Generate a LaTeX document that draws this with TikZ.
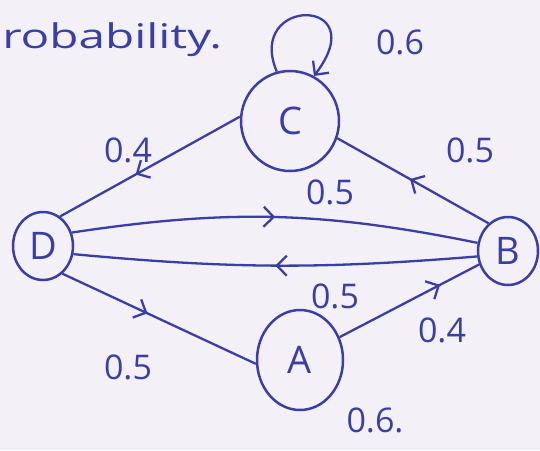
\documentclass[tikz,border=0pt]{standalone}
\usepackage{fontspec}
\setmainfont{Open Sans}
\usetikzlibrary{arrows.meta,shapes.geometric,decorations.markings}
\definecolor{ink}{RGB}{58,62,165}
\definecolor{paper}{RGB}{243,240,248}
\tikzset{
  state/.style={draw=ink,line width=2.5pt,ellipse,inner sep=0pt,text=ink,font=\fontsize{38}{38}\selectfont},
  lbl/.style={text=ink,font=\fontsize{34}{34}\selectfont,inner sep=0pt},
  edge/.style={draw=ink,line width=2.3pt},
  barb/.tip={Straight Barb[length=10pt,width=20pt,line width=2.3pt]},
  midarrow/.style={postaction={decorate},decoration={markings,mark=at position #1 with {\arrow[ink]{barb}}}}
}
\begin{document}
\begin{tikzpicture}[x=1pt,y=-1pt]
\fill[paper] (0,0) rectangle (540,450);
\useasboundingbox (0,0) rectangle (540,450);
\node[state,minimum width=98pt,minimum height=100pt] (C) at (290,121) {C};
\node[state,minimum width=60pt,minimum height=68pt] (D) at (43,246) {D};
\node[state,minimum width=60pt,minimum height=68pt] (B) at (508,251) {B};
\node[state,minimum width=86pt,minimum height=100pt] (A) at (300,360) {A};
% self loop on C
\draw[edge,-{barb}] (C.105) .. controls (245,-4) and (375,-4) .. (C.62);
% edges
\draw[edge,midarrow=0.58] (C.175) -- (D.60);
\draw[edge,midarrow=0.5] (D.25) to[bend left=10] (B.165);
\draw[edge,midarrow=0.5] (B.190) to[bend left=5] (D.-15);
\draw[edge,midarrow=0.44] (D.-55) -- (A.185);
\draw[edge,midarrow=0.72] (A.30) -- (B.205);
\draw[edge,midarrow=0.52] (B.125) -- (C.-20);
% labels
\node[lbl,anchor=west,xscale=1.4] (title) at (2,40) {robability.};
\node[lbl] (l1) at (400,42) {0.6};
\node[lbl] (l2) at (128,150) {0.4};
\node[lbl] (l3) at (330,192) {0.5};
\node[lbl] (l4) at (470,150) {0.5};
\node[lbl] (l5) at (335,296) {0.5};
\node[lbl] (l6) at (442,330) {0.4};
\node[lbl] (l7) at (128,367) {0.5};
\node[lbl] (l8) at (375,420) {0.6.};
\end{tikzpicture}
\end{document}
